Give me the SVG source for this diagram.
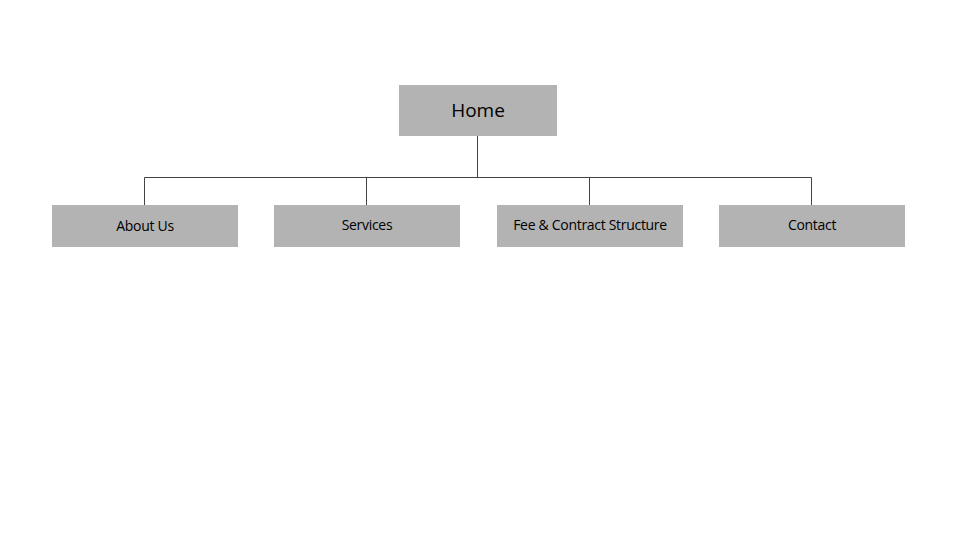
<svg xmlns="http://www.w3.org/2000/svg" width="960" height="560" viewBox="0 0 960 560">
<style>
.box{fill:#b3b3b3}
.lbl{font-family:"Open Sans","Noto Sans",sans-serif;fill:#000;text-anchor:middle}
.home{font-size:19px}
.child{font-size:14px;letter-spacing:-0.3px}
.conn{stroke:#444;stroke-width:1;fill:none}
</style>
<rect width="960" height="560" fill="#ffffff"/>
<g id="connectors">
<path class="conn" d="M477.5 136V177.5M144.5 177.5H811.5M144.5 177.5V205M366.5 177.5V205M589.5 177.5V205M811.5 177.5V205"/>
</g>
<g id="home">
<rect class="box" x="399" y="85" width="158" height="51"/>
<text class="lbl home" x="478" y="117">Home</text>
</g>
<g id="about">
<rect class="box" x="52" y="205" width="186" height="42"/>
<text class="lbl child" x="145" y="231">About Us</text>
</g>
<g id="services">
<rect class="box" x="274" y="205" width="186" height="42"/>
<text class="lbl child" x="367" y="230">Services</text>
</g>
<g id="fee">
<rect class="box" x="497" y="205" width="186" height="42"/>
<text class="lbl child" x="590" y="230">Fee &amp; Contract Structure</text>
</g>
<g id="contact">
<rect class="box" x="719" y="205" width="186" height="42"/>
<text class="lbl child" x="812" y="230">Contact</text>
</g>
</svg>
